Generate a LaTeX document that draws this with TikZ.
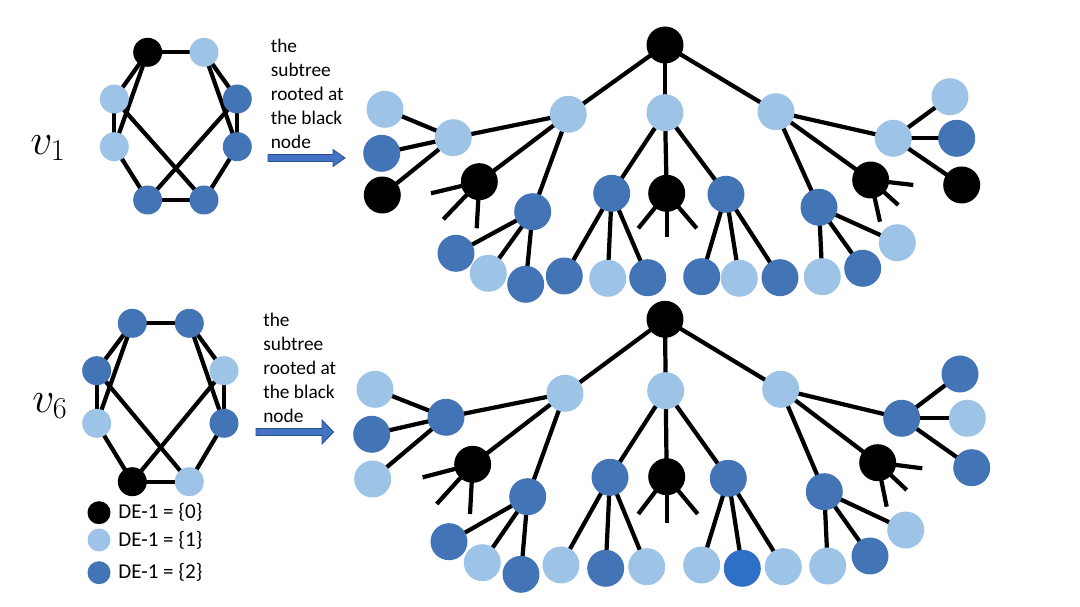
\documentclass[tikz,border=0pt]{standalone}
\usepackage{fontspec}
\setmainfont{Carlito}
\usetikzlibrary{backgrounds}
\definecolor{lightb}{RGB}{157,195,230}
\definecolor{darkb}{RGB}{66,116,182}
\definecolor{brightb}{RGB}{46,112,198}
\definecolor{arrowfill}{RGB}{68,114,196}
\definecolor{arrowline}{RGB}{47,82,143}
\tikzset{
  gnode/.style={circle, inner sep=0pt, outer sep=0pt, minimum size=0.58cm},
  tnode/.style={circle, inner sep=0pt, outer sep=0pt, minimum size=0.74cm},
  lgnode/.style={circle, inner sep=0pt, outer sep=0pt, minimum size=0.46cm},
  cl/.style={fill=lightb},
  cd/.style={fill=darkb},
  cb/.style={fill=black},
  cbr/.style={fill=brightb},
  edge/.style={draw=black, line width=2.4pt},
  caption/.style={font=\fontsize{11}{13.6}\selectfont, align=left, anchor=north west, inner sep=0pt},
  legtext/.style={font=\fontsize{12}{14}\selectfont, anchor=base west, inner sep=0pt},
  mathlabel/.style={font=\fontsize{24}{28}\selectfont, inner sep=0pt},
  blockarrow/.style={fill=arrowfill, draw=arrowline, line width=0.5pt}
}
\begin{document}
\begin{tikzpicture}[x=0.02cm, y=-0.02cm]
\useasboundingbox (0,0) rectangle (1080,607);

% ---------- graph v1 ----------
\node[mathlabel] (lab1) at (48,148) {$v_1$};
\node[gnode,cb] (g1a) at (147.7,52.3) {};
\node[gnode,cl] (g1b) at (204,52.3) {};
\node[gnode,cl] (g1c) at (114.3,99) {};
\node[gnode,cl] (g1d) at (114.3,146.7) {};
\node[gnode,cd] (g1e) at (237.3,99) {};
\node[gnode,cd] (g1f) at (237.3,146.7) {};
\node[gnode,cd] (g1g) at (147.7,200) {};
\node[gnode,cd] (g1h) at (204,200) {};

% ---------- graph v6 ----------
\node[mathlabel] (lab6) at (50,406) {$v_6$};
\node[gnode,cd] (g6a) at (132.3,323.3) {};
\node[gnode,cd] (g6b) at (189.3,323.3) {};
\node[gnode,cd] (g6c) at (96.7,370.7) {};
\node[gnode,cl] (g6d) at (96.7,423.3) {};
\node[gnode,cl] (g6e) at (224,370.7) {};
\node[gnode,cd] (g6f) at (224,423.3) {};
\node[gnode,cb] (g6g) at (132.3,481.7) {};
\node[gnode,cl] (g6h) at (189.3,481.7) {};

% ---------- legend ----------
\node[lgnode,cb] (lg0) at (99,512.7) {};
\node[lgnode,cl] (lg1) at (99,540) {};
\node[lgnode,cd] (lg2) at (99,572.7) {};
\node[legtext] (lt0) at (118,518.8) {DE-1 = \{0\}};
\node[legtext] (lt1) at (118,546.3) {DE-1 = \{1\}};
\node[legtext] (lt2) at (118,579) {DE-1 = \{2\}};

% ---------- captions and arrows ----------
\node[caption] (cap1) at (270.5,39) {the\\subtree\\rooted at\\the black\\node};
\node[caption] (cap6) at (263,313) {the\\subtree\\rooted at\\the black\\node};
\draw[blockarrow] (268,154.5) -- (333,154.5) -- (333,149.5) -- (345,158) -- (333,166.5) -- (333,161.5) -- (268,161.5) -- cycle;
\draw[blockarrow] (256,428.5) -- (322,428.5) -- (322,420) -- (333.5,432) -- (322,444) -- (322,435.5) -- (256,435.5) -- cycle;

% ---------- top tree ----------
\node[tnode,cb] (tr) at (665,45) {};
\node[tnode,cl] (t1) at (568.3,114.3) {};
\node[tnode,cl] (t2) at (665,112.7) {};
\node[tnode,cl] (t3) at (776,111.7) {};
\node[tnode,cl] (t11) at (453.3,137.7) {};
\node[tnode,cb] (t12) at (479.3,181.7) {};
\node[tnode,cd] (t13) at (532.7,211.7) {};
\node[tnode,cl] (t111) at (385,109.3) {};
\node[tnode,cd] (t112) at (381.7,153.3) {};
\node[tnode,cb] (t113) at (382.3,195) {};
\coordinate (t12s1) at (431,193.3);
\coordinate (t12s2) at (443.3,219.3);
\coordinate (t12s3) at (476.7,228.3);
\node[tnode,cd] (t131) at (456,253.3) {};
\node[tnode,cl] (t132) at (488.3,273.3) {};
\node[tnode,cd] (t133) at (525.7,284.3) {};
\node[tnode,cd] (t21) at (611.7,193.3) {};
\node[tnode,cb] (t22) at (666.7,193.3) {};
\node[tnode,cd] (t23) at (726,194.3) {};
\node[tnode,cd] (t211) at (564.3,276) {};
\node[tnode,cl] (t212) at (607.7,278.3) {};
\node[tnode,cd] (t213) at (647.7,277.7) {};
\coordinate (t22s1) at (638.3,228.3);
\coordinate (t22s2) at (666.7,236.7);
\coordinate (t22s3) at (696.7,228.3);
\node[tnode,cd] (t231) at (701.7,276.7) {};
\node[tnode,cl] (t232) at (739.3,278.3) {};
\node[tnode,cd] (t233) at (780,277.7) {};
\node[tnode,cl] (t31) at (893.3,138.3) {};
\node[tnode,cb] (t32) at (870.7,180) {};
\node[tnode,cd] (t33) at (819,207.3) {};
\node[tnode,cl] (t311) at (950,96.7) {};
\node[tnode,cd] (t312) at (956.7,138.3) {};
\node[tnode,cb] (t313) at (961.7,185) {};
\coordinate (t32s1) at (913.3,185);
\coordinate (t32s2) at (898.3,205);
\coordinate (t32s3) at (880,221.7);
\node[tnode,cl] (t331) at (822.3,276.7) {};
\node[tnode,cd] (t332) at (862.7,268.3) {};
\node[tnode,cl] (t333) at (897.3,242.7) {};

% ---------- bottom tree ----------
\node[tnode,cb] (br) at (665,319.3) {};
\node[tnode,cl] (b1) at (565,393.3) {};
\node[tnode,cl] (b2) at (665.7,390.7) {};
\node[tnode,cl] (b3) at (780.7,389.3) {};
\node[tnode,cd] (b11) at (446,417.3) {};
\node[tnode,cb] (b12) at (472.7,464.3) {};
\node[tnode,cd] (b13) at (527.7,496.7) {};
\node[tnode,cl] (b111) at (375,389.3) {};
\node[tnode,cd] (b112) at (371.7,434.3) {};
\node[tnode,cl] (b113) at (372.7,479) {};
\coordinate (b12s1) at (422.7,477.3);
\coordinate (b12s2) at (436.7,504);
\coordinate (b12s3) at (470,514);
\node[tnode,cd] (b131) at (449,541.7) {};
\node[tnode,cl] (b132) at (482.3,562.7) {};
\node[tnode,cd] (b133) at (521,574.3) {};
\node[tnode,cd] (b21) at (610,477.3) {};
\node[tnode,cb] (b22) at (666.7,476.7) {};
\node[tnode,cd] (b23) at (728.3,478.3) {};
\node[tnode,cl] (b211) at (561,565) {};
\node[tnode,cd] (b212) at (605.7,568.3) {};
\node[tnode,cl] (b213) at (646.7,566.7) {};
\coordinate (b22s1) at (638.3,514);
\coordinate (b22s2) at (666.7,522.7);
\coordinate (b22s3) at (697.7,514);
\node[tnode,cl] (b231) at (701.7,565) {};
\node[tnode,cbr] (b232) at (742.3,568.3) {};
\node[tnode,cl] (b233) at (783.3,566.7) {};
\node[tnode,cd] (b31) at (901.7,418.3) {};
\node[tnode,cb] (b32) at (877.7,462.7) {};
\node[tnode,cd] (b33) at (824.3,491.7) {};
\node[tnode,cd] (b311) at (960,374) {};
\node[tnode,cl] (b312) at (967.3,418.3) {};
\node[tnode,cd] (b313) at (971.7,467.7) {};
\coordinate (b32s1) at (922.3,468.3);
\coordinate (b32s2) at (906.7,490);
\coordinate (b32s3) at (886.7,506.7);
\node[tnode,cl] (b331) at (827.7,566) {};
\node[tnode,cd] (b332) at (870,556) {};
\node[tnode,cl] (b333) at (905.7,530) {};

% ---------- connectors ----------
\begin{pgfonlayer}{background}
\foreach \g in {g1,g6}{
  \foreach \p/\q in {a/b,a/c,a/d,b/e,b/f,c/d,e/f,c/h,e/g,d/g,f/h,g/h}
    \draw[edge] (\g\p.center) -- (\g\q.center);
}
\foreach \t in {t,b}{
  \foreach \p/\q in {r/1,r/2,r/3,1/11,1/12,1/13,11/111,11/112,11/113,13/131,13/132,13/133,
                     2/21,2/22,2/23,21/211,21/212,21/213,23/231,23/232,23/233,
                     3/31,3/32,3/33,31/311,31/312,31/313,33/331,33/332,33/333}
    \draw[edge] (\t\p.center) -- (\t\q.center);
  \foreach \s in {12,22,32}{
    \foreach \k in {1,2,3}
      \draw[edge] (\t\s.center) -- (\t\s s\k);
  }
}
\end{pgfonlayer}
\end{tikzpicture}
\end{document}
